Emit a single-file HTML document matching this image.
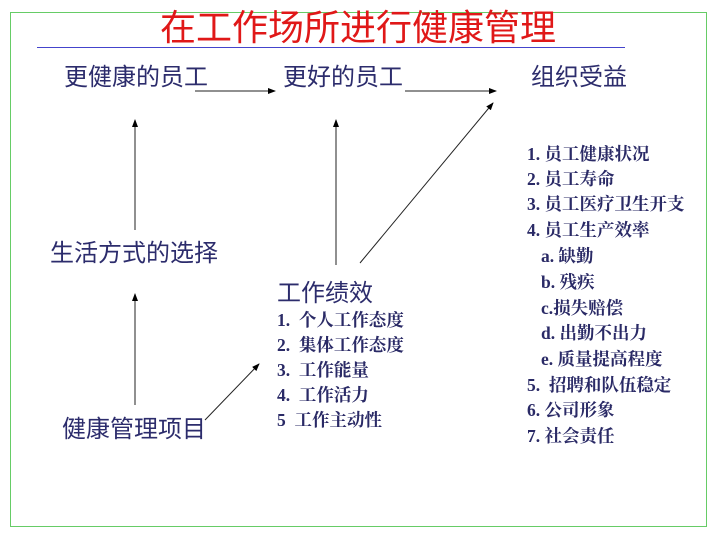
<!DOCTYPE html>
<html><head><meta charset="utf-8"><style>
body{margin:0;width:720px;height:540px;background:#fff;position:relative;overflow:hidden}
.b{position:absolute;left:10px;top:12px;width:697px;height:515px;border:1px solid #6c6;box-sizing:border-box}
.t{position:absolute;white-space:nowrap;color:#2c2c6c;font-family:"Liberation Sans","Noto Sans CJK SC",sans-serif;line-height:1}
.h{font-size:24px}
.s{font-family:"Liberation Serif","Noto Serif CJK SC",serif;font-size:17.5px;font-weight:bold;color:#2a2a66}
</style></head><body>
<div class="b"></div>
<div class="t" style="left:160px;top:10px;font-size:36px;color:#e01818">在工作场所进行健康管理</div>
<div style="position:absolute;left:37px;top:47px;width:588px;height:1px;background:#4444cc"></div>
<div class="t h" style="left:64px;top:66px">更健康的员工</div>
<div class="t h" style="left:283px;top:66px">更好的员工</div>
<div class="t h" style="left:531px;top:66px">组织受益</div>
<div class="t h" style="left:50px;top:242px">生活方式的选择</div>
<div class="t h" style="left:62px;top:418px">健康管理项目</div>
<div class="t h" style="left:277px;top:282px">工作绩效</div>
<div class="t s" style="left:277px;top:312px">1.&nbsp; 个人工作态度</div>
<div class="t s" style="left:277px;top:337px">2.&nbsp; 集体工作态度</div>
<div class="t s" style="left:277px;top:362px">3.&nbsp; 工作能量</div>
<div class="t s" style="left:277px;top:387px">4.&nbsp; 工作活力</div>
<div class="t s" style="left:277px;top:412px">5&nbsp; 工作主动性</div>
<div class="t s" style="left:527px;top:146px">1. 员工健康状况</div>
<div class="t s" style="left:527px;top:171px">2. 员工寿命</div>
<div class="t s" style="left:527px;top:196px">3. 员工医疗卫生开支</div>
<div class="t s" style="left:527px;top:222px">4. 员工生产效率</div>
<div class="t s" style="left:541px;top:248px">a. 缺勤</div>
<div class="t s" style="left:541px;top:274px">b. 残疾</div>
<div class="t s" style="left:541px;top:300px">c.损失赔偿</div>
<div class="t s" style="left:541px;top:325px">d. 出勤不出力</div>
<div class="t s" style="left:541px;top:351px">e. 质量提高程度</div>
<div class="t s" style="left:527px;top:377px">5.&nbsp; 招聘和队伍稳定</div>
<div class="t s" style="left:527px;top:402px">6. 公司形象</div>
<div class="t s" style="left:527px;top:428px">7. 社会责任</div>
<svg width="720" height="540" style="position:absolute;left:0;top:0">
<defs><marker id="a" markerWidth="8" markerHeight="8" refX="7" refY="4" orient="auto" markerUnits="userSpaceOnUse"><path d="M0,1 L8,4 L0,7 z" fill="#000"/></marker></defs>
<g stroke="#222" stroke-width="1" fill="none" marker-end="url(#a)">
<line x1="195" y1="91" x2="275" y2="91"/>
<line x1="405" y1="91" x2="496" y2="91"/>
<line x1="135" y1="230" x2="135" y2="120"/>
<line x1="135" y1="405" x2="135" y2="294"/>
<line x1="336" y1="265" x2="336" y2="120"/>
<line x1="360" y1="263" x2="493" y2="103"/>
<line x1="205" y1="420" x2="259" y2="364"/>
</g></svg>
</body></html>
